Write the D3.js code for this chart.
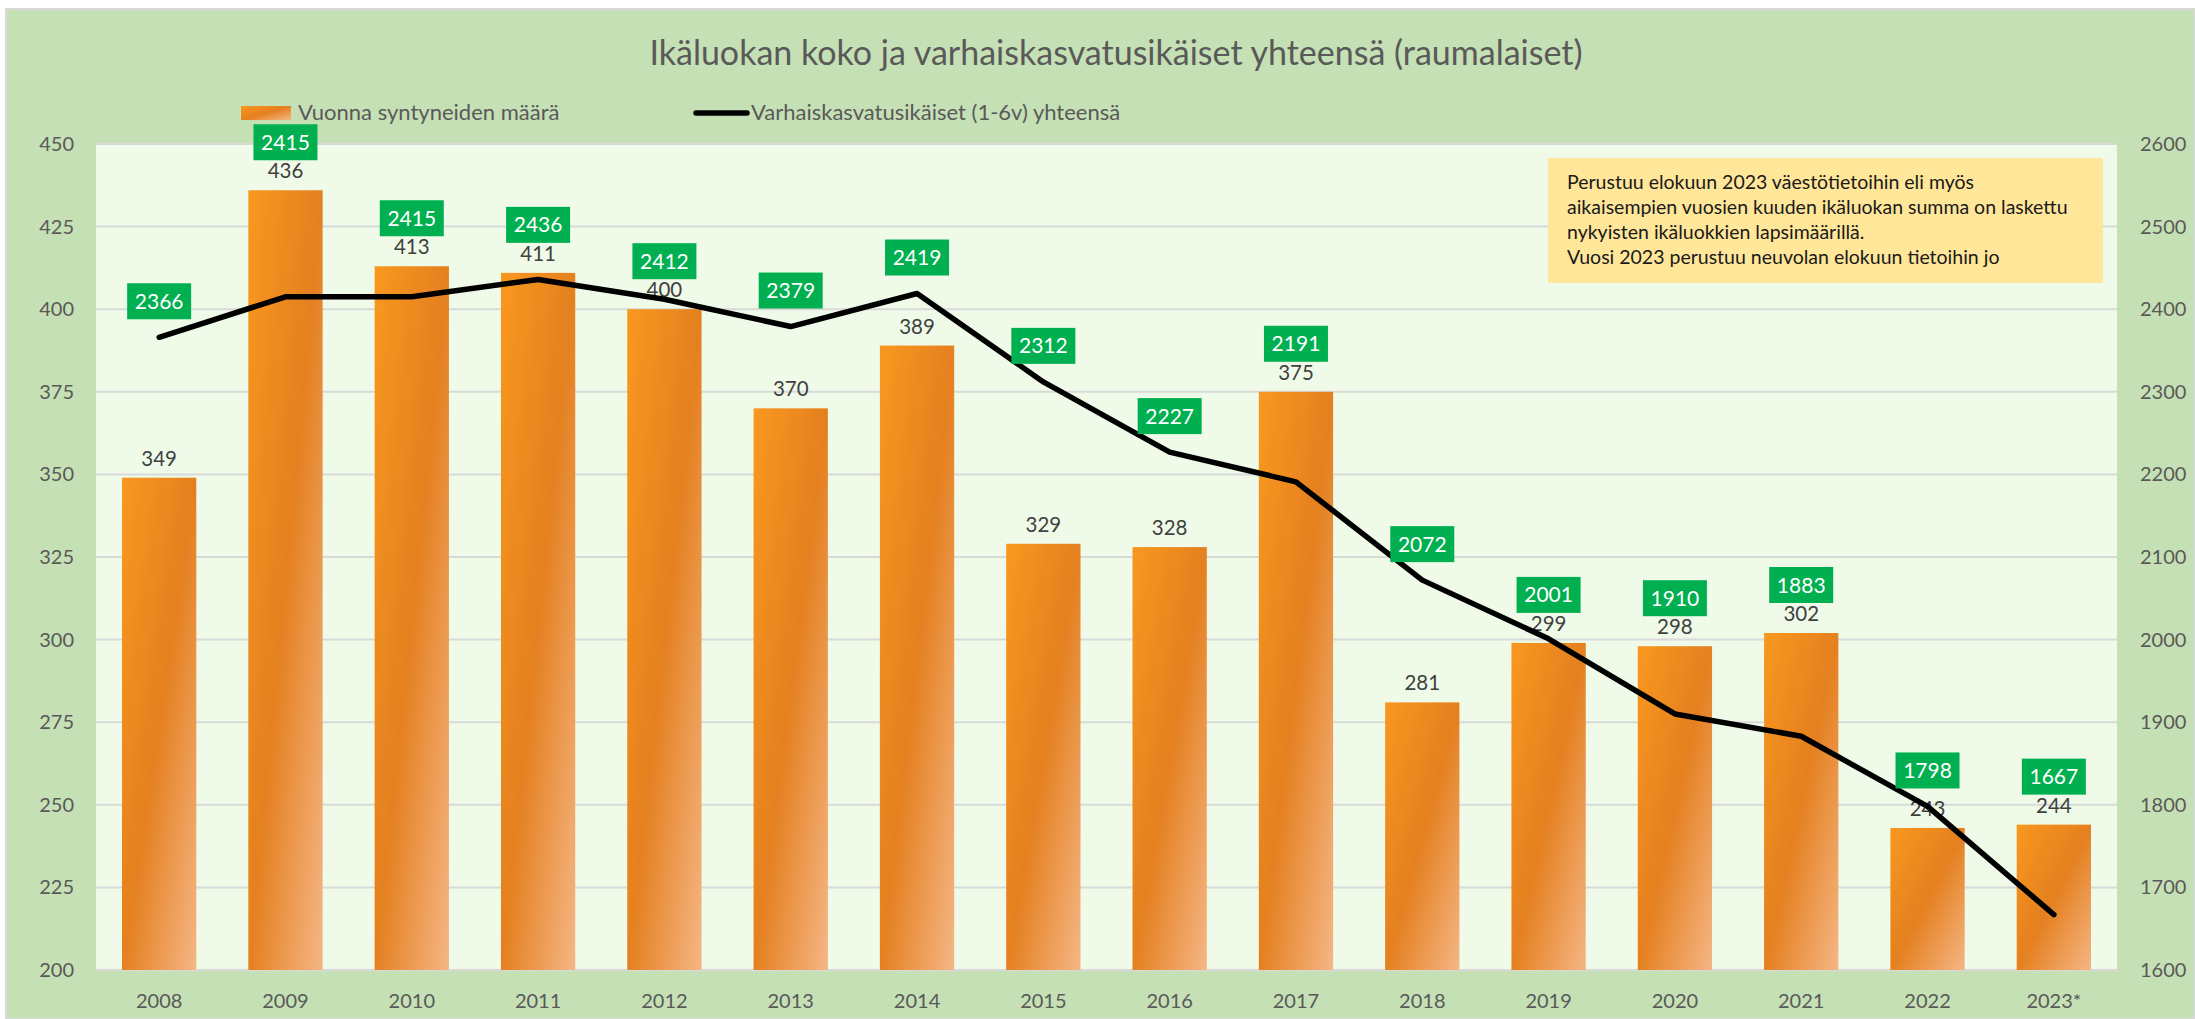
<!DOCTYPE html>
<html>
<head>
<meta charset="utf-8">
<script src="https://cdn.jsdelivr.net/npm/d3@7"></script>
<style>
  body { margin: 0; background: #fff; }
  text { font-family: Lato, "Open Sans", sans-serif; }
</style>
</head>
<body>
<script>
// Data
const years = ['2008', '2009', '2010', '2011', '2012', '2013', '2014', '2015',
    '2016', '2017', '2018', '2019', '2020', '2021', '2022', '2023*']
const births = [349, 436, 413, 411, 400, 370, 389, 329, 328, 375, 281, 299, 298, 302, 243, 244]
const earlyEdTotal = [2366, 2415, 2415, 2436, 2412, 2379, 2419, 2312, 2227, 2191, 2072, 2001, 1910, 1883, 1798, 1667]
const leftTicks = [200, 225, 250, 275, 300, 325, 350, 375, 400, 425, 450]
const rightTicks = [1600, 1700, 1800, 1900, 2000, 2100, 2200, 2300, 2400, 2500, 2600]
const title = 'Ikäluokan koko ja varhaiskasvatusikäiset yhteensä (raumalaiset)'
const legendBar = 'Vuonna syntyneiden määrä'
const legendLine = 'Varhaiskasvatusikäiset (1-6v) yhteensä'
const note = [
    'Perustuu elokuun 2023 väestötietoihin eli myös',
    'aikaisempien vuosien kuuden ikäluokan summa on laskettu',
    'nykyisten ikäluokkien lapsimäärillä.',
    'Vuosi 2023 perustuu neuvolan elokuun tietoihin jo'
]

const W = 2195, H = 1019
const plot = { left: 96, right: 2117, top: 144, bottom: 970 }

const svg = d3.select('body').append('svg')
    .attr('width', W)
    .attr('height', H)

// bar gradient
const defs = svg.append('defs')
const grad = defs.append('linearGradient')
    .attr('id', 'barGrad')
    .attr('x1', 0).attr('y1', 0)
    .attr('x2', 1).attr('y2', 1)
grad.append('stop').attr('offset', '0%').attr('stop-color', '#f9981f')
grad.append('stop').attr('offset', '50%').attr('stop-color', '#e4801f')
grad.append('stop').attr('offset', '100%').attr('stop-color', '#f5b685')

// chart background
svg.append('rect')
    .attr('x', 6).attr('y', 9)
    .attr('width', W - 6).attr('height', H - 9)
    .style('fill', '#c5e0b4')
    .style('stroke', '#d9d9d9')
    .style('stroke-width', 2)

svg.append('rect')
    .attr('x', plot.left).attr('y', plot.top)
    .attr('width', plot.right - plot.left).attr('height', plot.bottom - plot.top)
    .style('fill', '#effbe8')

// scales
const xScale = d3.scaleBand()
    .domain(years)
    .range([plot.left, plot.right])
    .paddingInner(0.7 / 1.7)
    .paddingOuter(0.35 / 1.7)

const yLeft = d3.scaleLinear()
    .domain([200, 450])
    .range([plot.bottom, plot.top])

const yRight = d3.scaleLinear()
    .domain([1600, 2600])
    .range([plot.bottom, plot.top])

// gridlines
svg.append('g')
    .selectAll('line')
    .data(leftTicks)
    .join('line')
        .attr('x1', plot.left)
        .attr('x2', plot.right)
        .attr('y1', d => yLeft(d))
        .attr('y2', d => yLeft(d))
        .style('stroke', '#d9d9d9')
        .style('stroke-width', 2)

// left axis
const leftAxis = svg.append('g')
    .attr('transform', `translate(${plot.left}, 0)`)
    .call(d3.axisLeft(yLeft).tickValues(leftTicks).tickSize(0).tickPadding(22))
leftAxis.select('.domain').remove()
leftAxis.selectAll('text')
    .style('font-size', '20px')
    .style('fill', '#595959')
    .style('font-family', 'Lato, sans-serif')

// right axis
const rightAxis = svg.append('g')
    .attr('transform', `translate(${plot.right}, 0)`)
    .call(d3.axisRight(yRight).tickValues(rightTicks).tickFormat(d3.format('d')).tickSize(0).tickPadding(23))
rightAxis.select('.domain').remove()
rightAxis.selectAll('text')
    .style('font-size', '20px')
    .style('fill', '#595959')
    .style('font-family', 'Lato, sans-serif')

// x axis
const xAxis = svg.append('g')
    .attr('transform', `translate(0, ${plot.bottom})`)
    .call(d3.axisBottom(xScale).tickSize(0).tickPadding(24))
xAxis.select('.domain').remove()
xAxis.selectAll('text')
    .style('font-size', '20px')
    .style('fill', '#595959')
    .style('font-family', 'Lato, sans-serif')

// bars
svg.append('g')
    .selectAll('rect')
    .data(births)
    .join('rect')
        .attr('x', (d, i) => xScale(years[i]))
        .attr('y', d => yLeft(d))
        .attr('width', xScale.bandwidth())
        .attr('height', d => plot.bottom - yLeft(d))
        .style('fill', 'url(#barGrad)')

// bar value labels
svg.append('g')
    .selectAll('text')
    .data(births)
    .join('text')
        .attr('x', (d, i) => xScale(years[i]) + xScale.bandwidth() / 2)
        .attr('y', d => yLeft(d) - 12)
        .attr('text-anchor', 'middle')
        .style('font-size', '20.5px')
        .style('fill', '#404040')
        .text(d => d)

// line
const line = d3.line()
    .x((d, i) => xScale(years[i]) + xScale.bandwidth() / 2)
    .y(d => yRight(d))

svg.append('path')
    .datum(earlyEdTotal)
    .style('stroke', '#000')
    .style('stroke-width', 5.5)
    .style('stroke-linejoin', 'round')
    .style('stroke-linecap', 'round')
    .style('fill', 'none')
    .attr('d', line)

// green labels for the line, kept clear of the bar labels
const labelY = (d, i) => Math.min(yRight(d) - 36, yLeft(births[i]) - 48)
const tags = svg.append('g')
    .selectAll('g')
    .data(earlyEdTotal)
    .join('g')
        .attr('transform', (d, i) =>
            `translate(${xScale(years[i]) + xScale.bandwidth() / 2}, ${labelY(d, i)})`)
tags.append('rect')
    .attr('x', -32).attr('y', -18)
    .attr('width', 64).attr('height', 36)
    .style('fill', '#00b050')
tags.append('text')
    .attr('text-anchor', 'middle')
    .attr('dy', '0.36em')
    .style('font-size', '21px')
    .style('fill', '#fff')
    .text(d => d)

// title
svg.append('text')
    .attr('x', 1116)
    .attr('y', 65)
    .attr('text-anchor', 'middle')
    .style('font-size', '34px')
    .style('fill', '#595959')
    .text(title)

// legend
svg.append('rect')
    .attr('x', 241).attr('y', 106)
    .attr('width', 50).attr('height', 14)
    .style('fill', 'url(#barGrad)')
svg.append('text')
    .attr('x', 298).attr('y', 120)
    .style('font-size', '22px')
    .style('fill', '#595959')
    .text(legendBar)
svg.append('line')
    .attr('x1', 696).attr('x2', 747)
    .attr('y1', 113).attr('y2', 113)
    .style('stroke', '#000')
    .style('stroke-width', 5.5)
    .style('stroke-linecap', 'round')
svg.append('text')
    .attr('x', 751).attr('y', 120)
    .style('font-size', '22px')
    .style('fill', '#595959')
    .text(legendLine)

// note box
svg.append('rect')
    .attr('x', 1548).attr('y', 158)
    .attr('width', 555).attr('height', 125)
    .style('fill', '#ffe699')
svg.append('g')
    .selectAll('text')
    .data(note)
    .join('text')
        .attr('x', 1567)
        .attr('y', (d, i) => 189 + i * 25)
        .style('font-size', '19.5px')
        .style('fill', '#1a1a1a')
        .text(d => d)
</script>
</body>
</html>
